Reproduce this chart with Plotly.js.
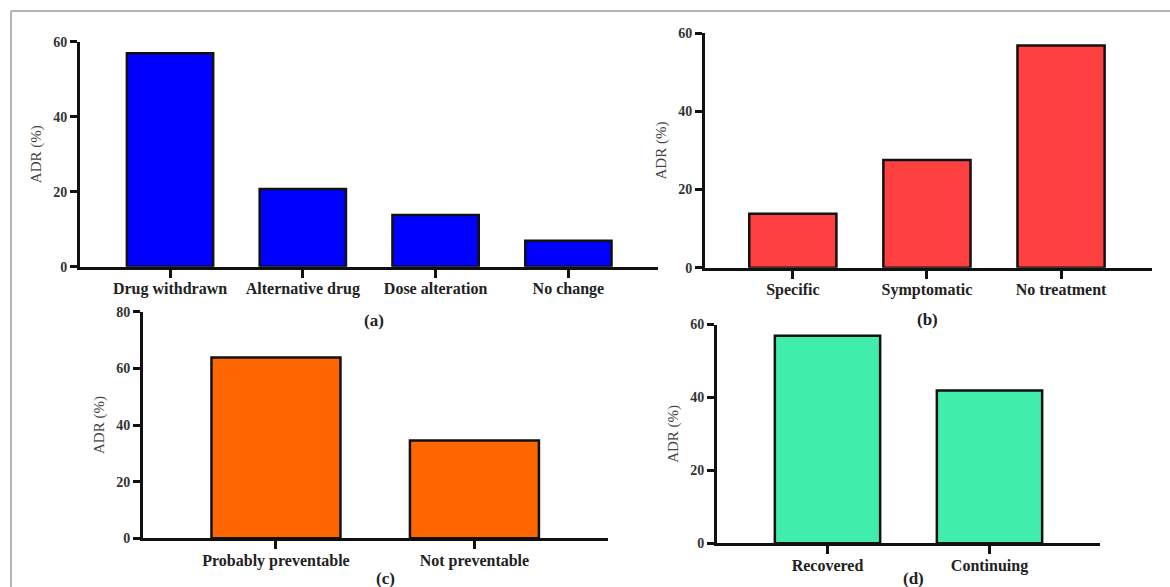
<!DOCTYPE html>
<html>
<head>
<meta charset="utf-8">
<script src="https://cdn.plot.ly/plotly-3.0.1.min.js"></script>
<style>html,body{margin:0;padding:0;background:#fff;}#chart{width:1170px;height:587px;}</style>
</head>
<body>
<div id="chart"></div>
<script>
// ---- data ----
const catsA = ['Drug withdrawn', 'Alternative drug', 'Dose alteration', 'No change'];
const valsA = [56.9, 20.7, 13.8, 6.9];
const catsB = ['Specific', 'Symptomatic', 'No treatment'];
const valsB = [13.8, 27.6, 56.9];
const catsC = ['Probably preventable', 'Not preventable'];
const valsC = [63.8, 34.5];
const catsD = ['Recovered', 'Continuing'];
const valsD = [56.9, 41.9];
const yTitle = 'ADR (%)';
const panelLabels = ['(a)', '(b)', '(c)', '(d)'];

// ---- layout helpers ----
const W = 1170, H = 587;
const px = v => v / W;
const py = v => 1 - v / H;
const serif = 'Liberation Serif, Times New Roman, serif';

function bar(x, y, color, xa, ya) {
  return {
    type: 'bar', x: x, y: y, xaxis: xa, yaxis: ya, width: 0.65,
    marker: {color: color, line: {color: '#111', width: 2.5}},
    hoverinfo: 'x+y', showlegend: false
  };
}

function xax(domain, range, anchor, size) {
  return {
    domain: [px(domain[0]), px(domain[1])], anchor: anchor, type: 'category',
    range: range, showline: true, linecolor: '#111', linewidth: 3,
    ticks: 'outside', ticklen: 8, tickwidth: 3, tickcolor: '#111',
    ticklabelstandoff: -3,
    showgrid: false, zeroline: false, fixedrange: true,
    tickfont: {family: serif, size: size, color: '#222', weight: 'bold'}
  };
}
function yax(domain, range, dtick, anchor) {
  return {
    domain: [py(domain[1]), py(domain[0])], anchor: anchor,
    range: range, dtick: dtick, tick0: 0, showline: true, linecolor: '#111', linewidth: 3,
    ticks: 'outside', ticklen: 7, tickwidth: 3, tickcolor: '#111',
    showgrid: false, zeroline: false, fixedrange: true,
    tickfont: {family: serif, size: 14, color: '#333', weight: 'bold'},
    title: {text: yTitle, font: {family: serif, size: 15, color: '#444'}, standoff: 8}
  };
}

const data = [
  bar(catsA, valsA, '#0000FF', 'x', 'y'),
  bar(catsB, valsB, '#FF4040', 'x2', 'y2'),
  bar(catsC, valsC, '#FF6600', 'x3', 'y3'),
  bar(catsD, valsD, '#40EDAA', 'x4', 'y4')
];

const layout = {
  width: W, height: H,
  margin: {l: 0, r: 0, t: 0, b: 0},
  paper_bgcolor: '#fff', plot_bgcolor: 'rgba(0,0,0,0)',
  xaxis: xax([80, 658], [-0.678, 3.675], 'y', 16),
  yaxis: yax([41.7, 266.7], [0, 60], 20, 'x'),
  xaxis2: xax([705, 1151.7], [-0.655, 2.676], 'y2', 16),
  yaxis2: yax([33.3, 267.7], [0, 60], 20, 'x2'),
  xaxis3: xax([143, 608], [-0.67, 1.673], 'y3', 16),
  yaxis3: yax([311.7, 538.3], [0, 80], 20, 'x3'),
  xaxis4: xax([717, 1100], [-0.682, 1.682], 'y4', 16),
  yaxis4: yax([324.5, 543.3], [0, 60], 20, 'x4'),
  shapes: [
    {type: 'line', xref: 'paper', yref: 'paper', x0: px(11), x1: px(11), y0: py(11), y1: 0, line: {color: '#b4b4b4', width: 2}},
    {type: 'line', xref: 'paper', yref: 'paper', x0: px(11), x1: 1, y0: py(11), y1: py(11), line: {color: '#b4b4b4', width: 2}}
  ],
  annotations: [
    [373.5, 320], [927, 319.5], [385.7, 578], [913.5, 578]
  ].map((p, i) => ({
    xref: 'paper', yref: 'paper', x: px(p[0]), y: py(p[1]), xanchor: 'center', yanchor: 'middle',
    text: panelLabels[i], showarrow: false,
    font: {family: serif, size: 17, color: '#222', weight: 'bold'}
  }))
};

Plotly.newPlot('chart', data, layout, {displayModeBar: false, staticPlot: true});
</script>
</body>
</html>
